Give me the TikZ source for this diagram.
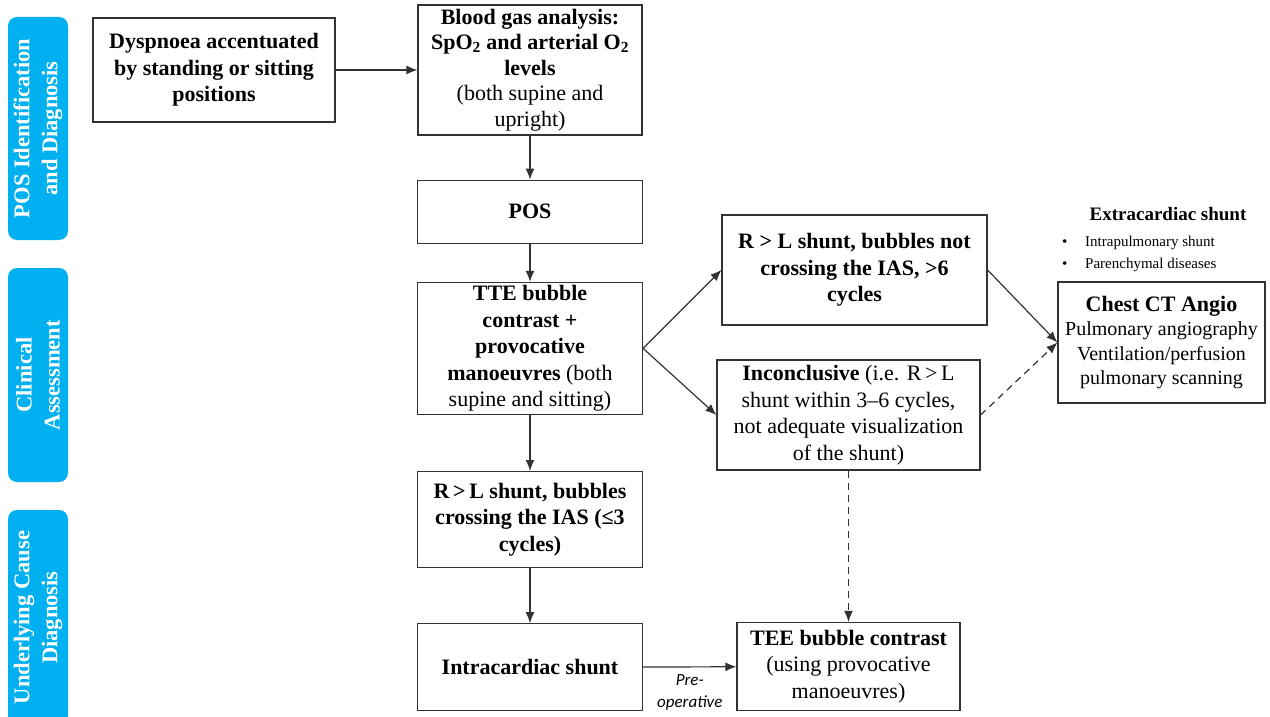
\documentclass[tikz,border=0pt]{standalone}
\usepackage{fontspec}
\setmainfont{Liberation Serif}
\newfontfamily\calibri{Carlito}
\usetikzlibrary{positioning,arrows.meta}
\definecolor{tabblue}{HTML}{00B0F0}
\definecolor{boxline}{HTML}{333333}

\begin{document}
\begin{tikzpicture}[>={Latex[length=11pt,width=9pt]},x=1pt,y=-1pt,
		every node/.style={font=\fontsize{22}{26.5}\selectfont},
		box/.style={draw=boxline,line width=1.2pt,align=center,inner sep=2pt},
		boldbox/.style={box,font=\fontsize{22}{26.5}\selectfont\bfseries},
		tab/.style={fill=tabblue,rounded corners=9pt,text=white,rotate=90,align=center,
			font=\fontsize{22.5}{28}\selectfont\bfseries,minimum height=60pt,inner sep=0pt},
		link/.style={->,draw=boxline,line width=1.2pt},
		maybe/.style={link,dash pattern=on 7pt off 5pt}]
		\useasboundingbox (0,0) rectangle (1270,717);

		% stage tabs
		\node[tab,minimum width=223pt] (tabpos) at (38,128.5) {POS Identification\\and Diagnosis};
		\node[tab,minimum width=214pt] (tabclin) at (38,375) {Clinical\\Assessment};
		\node[tab,minimum width=215pt] (tabcause) at (38,617.5) {Underlying Cause\\Diagnosis};

		% create the nodes
		\node[boldbox,minimum width=242pt,minimum height=104pt] (dysp) at (214,70) {Dyspnoea accentuated\\by standing or sitting\\positions};
		\node[box,minimum width=224pt,minimum height=130pt,font=\fontsize{22}{25.5}\selectfont] (blood) at (530,70) {\textbf{Blood gas analysis:}\\\textbf{SpO\textsubscript{2} and arterial O\textsubscript{2}}\\\textbf{levels}\\(both supine and\\upright)};
		\node[boldbox,minimum width=225pt,minimum height=63pt,below=44pt of blood] (pos) {POS};
		\node[box,minimum width=225pt,minimum height=132pt,below=38pt of pos] (tte) {\textbf{TTE bubble}\\\textbf{contrast +}\\\textbf{provocative}\\\textbf{manoeuvres} (both\\supine and sitting)};
		\node[boldbox,minimum width=225pt,minimum height=96pt,below=56pt of tte] (cross) {R\,>\,L shunt, bubbles\\crossing the IAS (≤3\\cycles)};
		\node[boldbox,minimum width=225pt,minimum height=87pt,below=55pt of cross] (intra) {Intracardiac shunt};
		\node[boldbox,minimum width=265pt,minimum height=110pt] (notcross) at (854.5,270) {R > L shunt, bubbles not\\crossing the IAS, >6\\cycles};
		\node[box,minimum width=263pt,minimum height=110pt] (incon) at (848.5,415) {\textbf{Inconclusive} (i.e. R\,>\,L\\shunt within 3–6 cycles,\\not adequate visualization\\of the shunt)};
		\node[box,minimum width=223pt,minimum height=88pt] (tee) at (848.5,666.5) {\textbf{TEE bubble contrast}\\(using provocative\\manoeuvres)};
		\node[box,minimum width=207pt,minimum height=121pt,font=\fontsize{20}{24.5}\selectfont] (ct) at (1161.5,342.5) {\textbf{\fontsize{22}{24.5}\selectfont Chest CT Angio}\\Pulmonary angiography\\Ventilation/perfusion\\pulmonary scanning};

		\node[font=\fontsize{19}{23}\selectfont\bfseries] (extra) at (1168,214) {Extracardiac shunt};
		\node[anchor=west,inner sep=0pt,font=\fontsize{15}{18}\selectfont] (bul1) at (1062,243) {\makebox[23pt][l]{\textbullet}Intrapulmonary shunt};
		\node[anchor=west,inner sep=0pt,font=\fontsize{15}{18}\selectfont] (bul2) at (1062,265) {\makebox[23pt][l]{\textbullet}Parenchymal diseases};

		% connect the nodes
		\draw[link] (dysp) -- (blood);
		\draw[link] (blood) -- (pos);
		\draw[link] (pos) -- (tte);
		\draw[link] (tte) -- (cross);
		\draw[link] (cross) -- (intra);
		\draw[link] (tte.east) -- (notcross.west);
		\draw[link] (tte.east) -- (incon.west);
		\draw[link] (notcross.east) -- (ct.west);
		\draw[maybe] (incon.east) -- (ct.west);
		\draw[maybe] (incon) -- (tee);
		\draw[link] (intra) -- node[below=4pt,align=center,font=\calibri\itshape\fontsize{17}{22}\selectfont] (preop) {Pre-\\operative} (tee);

	\end{tikzpicture}
\end{document}
